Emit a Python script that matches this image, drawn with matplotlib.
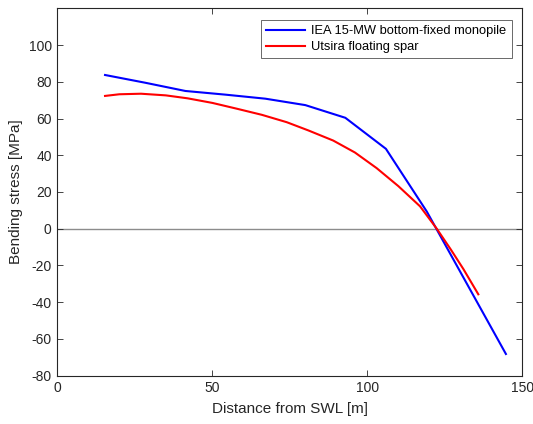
import matplotlib
matplotlib.use("Agg")
import matplotlib.pyplot as plt

# Bending stress along the tower/substructure
blue_x = [15.4, 28.3, 41.3, 54.2, 67.1, 80.0, 92.9, 106.0, 119.2, 131.7, 144.7]
blue_y = [83.7, 79.5, 75.0, 73.0, 70.8, 67.3, 60.4, 43.5, 9.3, -28.7, -68.2]

red_x = [15.4, 20.0, 27.0, 35.0, 42.0, 50.0, 58.0, 66.0, 74.0, 81.0, 89.0,
         96.0, 103.0, 110.0, 117.0, 122.4, 127.0, 131.0, 135.8]
red_y = [72.3, 73.2, 73.5, 72.6, 71.0, 68.5, 65.3, 62.0, 58.0, 53.5, 48.0,
         41.5, 33.0, 23.2, 12.2, 0.0, -11.5, -22.0, -35.7]

labels = ["IEA 15-MW bottom-fixed monopile", "Utsira floating spar"]
x_ticks = [0, 50, 100, 150]
y_ticks = [-80, -60, -40, -20, 0, 20, 40, 60, 80, 100]

plt.rcParams['font.family'] = ['Liberation Sans', 'DejaVu Sans']
plt.rcParams['axes.unicode_minus'] = False

fig = plt.figure(figsize=(5.33, 4.24), dpi=100)
ax = fig.add_axes([0.1075, 0.114, 0.8725, 0.8664])

ax.axhline(0, color='#8c8c8c', lw=1.0, zorder=1)
ax.plot(blue_x, blue_y, color='#0000ff', lw=1.5, label=labels[0], zorder=3)
ax.plot(red_x, red_y, color='#ff0000', lw=1.5, label=labels[1], zorder=3)

ax.set_xlim(0, 150)
ax.set_ylim(-80, 120)
ax.set_xticks(x_ticks)
ax.set_yticks(y_ticks)
ax.tick_params(direction='in', top=True, right=True, length=4, width=0.6,
               colors='#262626', labelsize=10, pad=4)
for s in ax.spines.values():
    s.set_color('#262626')
    s.set_linewidth(0.8)

ax.set_xlabel("Distance from SWL [m]", fontsize=11, color='#262626', labelpad=5)
ax.set_ylabel("Bending stress [MPa]", fontsize=11, color='#262626', labelpad=4)

leg = ax.legend(loc='upper right', bbox_to_anchor=(0.977, 0.968), fontsize=9.3,
                frameon=True, fancybox=False, handlelength=3.0,
                borderpad=0.4, labelspacing=0.3, handletextpad=0.5,
                borderaxespad=0)
leg.get_frame().set_edgecolor('#262626')
leg.get_frame().set_linewidth(0.6)

fig.savefig("out.png", dpi=100)
